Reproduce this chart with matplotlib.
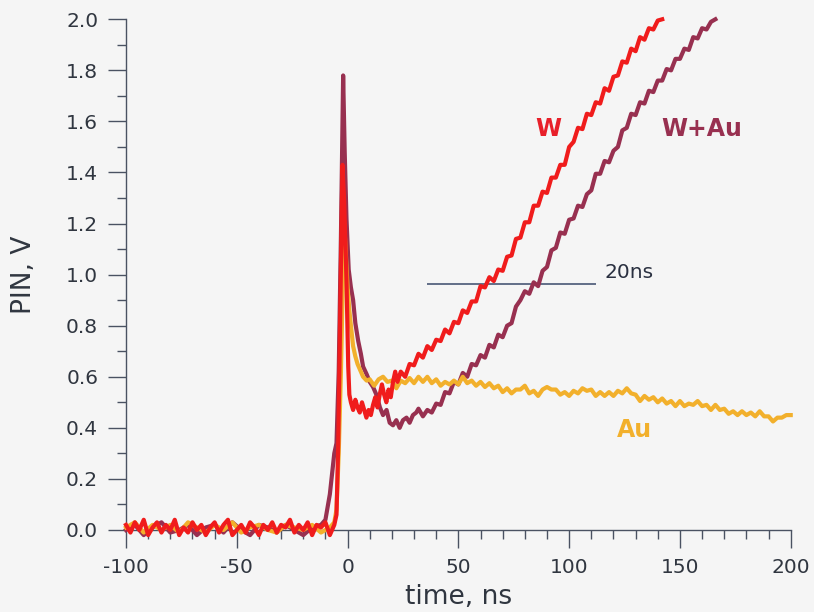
import numpy as np
import matplotlib
matplotlib.use("Agg")
import matplotlib.pyplot as plt
from matplotlib.ticker import MultipleLocator, FormatStrFormatter

plt.rcParams["axes.unicode_minus"] = False
plt.rcParams["font.family"] = ["DejaVu Sans"]

# ── W trace (red) ──
w_base_t = np.arange(-100, -5, 2)
w_base_v = [0.02, -0.01, 0.03, 0.00, 0.04, -0.02, 0.01, 0.03, -0.01, 0.02,
            0.00, 0.04, -0.02, 0.01, -0.01, 0.03, 0.00, 0.02, -0.02, 0.01,
            0.03, -0.01, 0.02, 0.04, -0.02, 0.00, 0.02, -0.01, 0.03, 0.01,
            -0.02, 0.02, 0.00, 0.03, -0.01, 0.02, 0.01, 0.04, -0.01, 0.02,
            0.00, 0.03, -0.02, 0.02, 0.01, 0.03, -0.02, 0.02]
w_peak_t = [-5, -4.2, -3.2, -2.3, -1.5, -0.5, 0.3, 0.8, 1.5, 2.5, 3.5, 4.5, 5.5,
            6.5, 7.5, 8.5, 9.5, 10.5, 11.5, 12.5, 13.5, 14.5, 15.5, 16.5, 17.5,
            18.5, 19.5, 20.5, 21.5, 22.5]
w_peak_v = [0.06, 0.34, 0.90, 1.43, 1.28, 0.98, 0.64, 0.53, 0.50, 0.47, 0.51,
            0.48, 0.46, 0.50, 0.47, 0.44, 0.47, 0.45, 0.49, 0.52, 0.48, 0.53,
            0.57, 0.53, 0.50, 0.55, 0.52, 0.58, 0.62, 0.58]
w_rise_t = np.arange(24, 143, 2)
w_rise_v = [0.62, 0.60, 0.65, 0.645, 0.69, 0.675, 0.72, 0.705, 0.745, 0.74,
            0.785, 0.77, 0.815, 0.81, 0.86, 0.85, 0.895, 0.895, 0.955, 0.95,
            0.99, 0.975, 1.02, 1.015, 1.07, 1.075, 1.14, 1.145, 1.205, 1.205,
            1.27, 1.27, 1.325, 1.32, 1.38, 1.38, 1.43, 1.43, 1.50, 1.52,
            1.575, 1.57, 1.63, 1.625, 1.675, 1.67, 1.73, 1.72, 1.775, 1.78,
            1.835, 1.83, 1.885, 1.875, 1.93, 1.92, 1.965, 1.96, 1.995, 2.00]

# ── W+Au trace (maroon) ──
wau_base_t = np.arange(-100, -11, 4)
wau_base_v = [0.00, 0.02, -0.02, 0.01, 0.03, -0.01, 0.00, 0.02, -0.02, 0.01,
              0.02, -0.01, 0.03, 0.00, -0.02, 0.02, 0.01, -0.01, 0.02, 0.00,
              -0.02, 0.01, 0.02]
wau_peak_t = [-10, -9, -8, -7, -6, -5, -4, -3, -2, -1.3, -0.5, 0.5, 1.5, 2.5,
              3.5, 4.8, 6, 7, 8.6, 10, 11.5, 13, 14.6, 16, 17.6, 19, 20.5, 22,
              23.5, 25, 26.6, 28, 29.5, 31]
wau_peak_v = [0.04, 0.09, 0.14, 0.22, 0.30, 0.34, 0.62, 1.15, 1.78, 1.48, 1.22,
              1.02, 0.95, 0.90, 0.81, 0.74, 0.69, 0.64, 0.61, 0.58, 0.56, 0.53,
              0.48, 0.45, 0.47, 0.42, 0.41, 0.43, 0.40, 0.43, 0.44, 0.42, 0.45,
              0.46]
wau_rise_t = np.arange(32, 167, 2)
wau_rise_v = [0.475, 0.445, 0.47, 0.46, 0.495, 0.49, 0.54, 0.535, 0.58, 0.57,
              0.615, 0.60, 0.65, 0.645, 0.685, 0.675, 0.725, 0.715, 0.765, 0.755,
              0.80, 0.81, 0.875, 0.90, 0.935, 0.925, 0.97, 0.955, 1.015, 1.03,
              1.095, 1.105, 1.165, 1.16, 1.215, 1.22, 1.27, 1.265, 1.315, 1.33,
              1.395, 1.395, 1.445, 1.44, 1.485, 1.50, 1.565, 1.575, 1.63, 1.625,
              1.675, 1.67, 1.72, 1.715, 1.76, 1.76, 1.805, 1.80, 1.845, 1.845,
              1.885, 1.88, 1.93, 1.925, 1.965, 1.96, 1.99, 2.00]

# ── Au trace (orange) ──
au_base_t = np.arange(-100, -7, 4)
au_base_v = [0.01, 0.03, -0.01, 0.02, 0.00, 0.02, -0.01, 0.03, 0.01, -0.01,
             0.02, 0.00, 0.03, -0.01, 0.01, 0.02, 0.00, -0.01, 0.02, 0.01,
             0.00, 0.02, -0.01, 0.01]
au_peak_t = [-6, -5, -4, -3, -2.2, -1.5, -0.8, 0, 0.8, 1.5, 2.5, 3.5, 4.5, 5.5,
             7, 8.6]
au_peak_v = [0.03, 0.08, 0.30, 0.62, 0.95, 1.20, 1.08, 0.95, 0.86, 0.80, 0.72,
             0.68, 0.65, 0.63, 0.60, 0.585]
au_tail_t = np.arange(10, 201, 2)
au_tail_v = [0.59, 0.565, 0.59, 0.60, 0.58, 0.585, 0.555, 0.585, 0.575, 0.595,
             0.575, 0.60, 0.58, 0.60, 0.575, 0.59, 0.565, 0.58, 0.57, 0.585,
             0.57, 0.60, 0.575, 0.585, 0.565, 0.58, 0.56, 0.575, 0.555, 0.565,
             0.54, 0.555, 0.535, 0.55, 0.55, 0.565, 0.535, 0.545, 0.525, 0.55,
             0.56, 0.55, 0.55, 0.53, 0.54, 0.525, 0.545, 0.535, 0.555, 0.545,
             0.55, 0.525, 0.54, 0.525, 0.54, 0.525, 0.545, 0.535, 0.555, 0.535,
             0.53, 0.505, 0.525, 0.51, 0.52, 0.50, 0.515, 0.495, 0.505, 0.485,
             0.505, 0.485, 0.495, 0.49, 0.505, 0.485, 0.49, 0.47, 0.49, 0.47,
             0.475, 0.455, 0.465, 0.45, 0.465, 0.45, 0.46, 0.445, 0.465, 0.445,
             0.445, 0.425, 0.44, 0.44, 0.45, 0.45]

# 20 ns delay marker
marker_t = [36, 112]
marker_v = 0.965

BG = "#f5f5f5"
AXIS = "#4a5262"
RED = "#f01c1c"
MAROON = "#983050"
ORANGE = "#f2b02c"

fig = plt.figure(figsize=(8.14, 6.12), dpi=100, facecolor=BG)
ax = fig.add_axes([0.1548, 0.134, 0.8166, 0.8345], facecolor=BG)

ax.hlines(marker_v, marker_t[0], marker_t[1], color="#3a4a6a", lw=1.1, zorder=2)

traces = [
    (wau_base_t, wau_base_v, wau_peak_t, wau_peak_v, wau_rise_t, wau_rise_v, MAROON),
    (au_base_t, au_base_v, au_peak_t, au_peak_v, au_tail_t, au_tail_v, ORANGE),
    (w_base_t, w_base_v, w_peak_t, w_peak_v, w_rise_t, w_rise_v, RED),
]
for i, (bt, bv, pt, pv, rt, rv, col) in enumerate(traces):
    t = np.concatenate([bt, pt, rt])
    v = np.concatenate([bv, pv, rv])
    ax.plot(t, v, color=col, lw=3.0, zorder=3 + i, clip_on=False,
            solid_joinstyle="round")

ax.text(90.5, 1.57, "W", color="#e8202a", fontsize=17, fontweight="bold",
        ha="center", va="center")
ax.text(160, 1.57, "W+Au", color=MAROON, fontsize=17, fontweight="bold",
        ha="center", va="center")
ax.text(129.5, 0.39, "Au", color=ORANGE, fontsize=17, fontweight="bold",
        ha="center", va="center")
ax.text(116, 1.01, "20ns", color="#2a3040", fontsize=14.5,
        ha="left", va="center")

ax.set_xlim(-100, 200)
ax.set_ylim(0, 2.0)
ax.xaxis.set_major_locator(MultipleLocator(50))
ax.xaxis.set_minor_locator(MultipleLocator(10))
ax.yaxis.set_major_locator(MultipleLocator(0.2))
ax.yaxis.set_minor_locator(MultipleLocator(0.1))
ax.yaxis.set_major_formatter(FormatStrFormatter("%.1f"))

for side in ("top", "right"):
    ax.spines[side].set_visible(False)
for side in ("left", "bottom"):
    ax.spines[side].set_color(AXIS)
    ax.spines[side].set_linewidth(1.0)

ax.tick_params(which="major", direction="out", length=13, width=1.0,
               color=AXIS, labelsize=14.5, labelcolor="#303640")
ax.tick_params(which="minor", direction="out", length=6.5, width=1.0, color=AXIS)
ax.tick_params(axis="y", which="major", pad=7)
ax.tick_params(axis="x", which="major", pad=7)

ax.set_xlabel("time, ns", fontsize=19, color="#303640")
ax.set_ylabel("PIN, V", fontsize=19, color="#303640")
ax.xaxis.set_label_coords(0.5, -0.105)
ax.yaxis.set_label_coords(-0.134, 0.5)

fig.savefig("out.png", dpi=100, facecolor=BG)
